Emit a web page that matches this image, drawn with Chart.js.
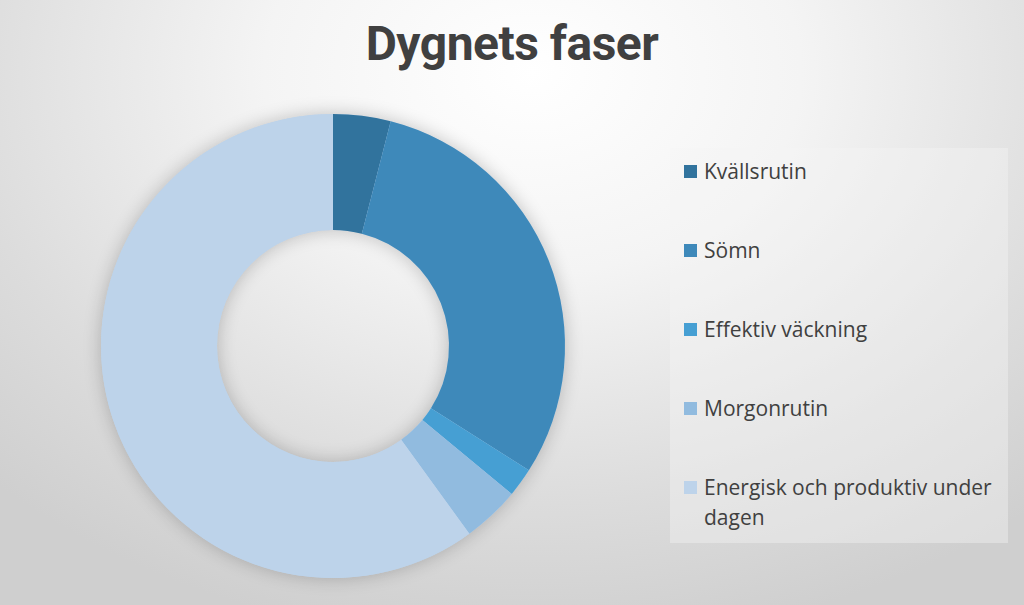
<!DOCTYPE html>
<html lang="sv">
<head>
<meta charset="utf-8">
<title>Dygnets faser</title>
<script src="https://cdn.jsdelivr.net/npm/chart.js@4/dist/chart.umd.min.js"></script>
<style>
  html, body {
    margin: 0;
    padding: 0;
  }
  body {
    width: 1024px;
    height: 605px;
    overflow: hidden;
    position: relative;
    background: radial-gradient(ellipse 75% 95% at 52% 12%, #ffffff 0%, #f4f4f4 35%, #dcdcdc 75%, #cfcfcf 100%);
    font-family: "Open Sans", sans-serif;
    color: #404040;
  }
  #title {
    position: absolute;
    left: 0;
    width: 1024px;
    top: 15px;
    text-align: center;
    font-family: Roboto, "Open Sans", sans-serif;
    font-size: 48px;
    font-weight: bold;
    letter-spacing: -0.5px;
    color: #404040;
  }
  #chart-wrap {
    position: absolute;
    left: 71px;
    top: 84px;
    width: 524px;
    height: 524px;
  }
  #legend {
    position: absolute;
    left: 670px;
    top: 148px;
    width: 338px;
    height: 395px;
    background: rgba(245, 245, 245, 0.4);
    box-sizing: border-box;
    padding: 8px 0 0 14px;
  }
  .legend-item {
    position: relative;
    padding-left: 20px;
    font-size: 21px;
    line-height: 30px;
    height: 79px;
  }
  .legend-item .swatch {
    position: absolute;
    left: 0;
    top: 9px;
    width: 13px;
    height: 13px;
  }
</style>
</head>
<body>
<div id="title">Dygnets faser</div>
<div id="chart-wrap"><canvas id="dayChart"></canvas></div>
<div id="legend"></div>

<script>
// Share of the day per phase (percent)
const categories = ['Kvällsrutin', 'Sömn', 'Effektiv väckning', 'Morgonrutin', 'Energisk och produktiv under dagen'];
const values = [4, 30, 2, 4, 60];
const colors = ['#31739d', '#3e89ba', '#469fd3', '#91bbdf', '#bdd3ea'];

// Soft halo behind the ring, like the office chart style
const ringShadow = {
  id: 'ringShadow',
  beforeDatasetsDraw(chart) {
    const arc = chart.getDatasetMeta(0).data[0];
    if (!arc) return;
    const { x, y, innerRadius, outerRadius } = arc.getProps(['x', 'y', 'innerRadius', 'outerRadius'], true);
    const c = chart.ctx;
    c.save();
    c.shadowColor = 'rgba(0, 0, 0, 0.22)';
    c.shadowBlur = 18;
    c.fillStyle = '#bdd3ea';
    c.beginPath();
    c.arc(x, y, outerRadius, 0, Math.PI * 2);
    c.arc(x, y, innerRadius, 0, Math.PI * 2, true);
    c.fill();
    c.restore();
  }
};

const ctx = document.getElementById('dayChart').getContext('2d');
const chart = new Chart(ctx, {
  type: 'doughnut',
  data: {
    labels: categories,
    datasets: [{
      data: values,
      backgroundColor: colors,
      borderWidth: 0
    }]
  },
  options: {
    responsive: true,
    maintainAspectRatio: false,
    animation: false,
    cutout: '50%',
    layout: {
      padding: 30
    },
    plugins: {
      legend: {
        display: false
      },
      tooltip: {
        enabled: false
      }
    }
  },
  plugins: [ringShadow]
});

// Build legend from the chart's own legend items
const legendEl = document.getElementById('legend');
chart.options.plugins.legend.labels.generateLabels(chart).forEach(item => {
  const row = document.createElement('div');
  row.className = 'legend-item';
  const swatch = document.createElement('span');
  swatch.className = 'swatch';
  swatch.style.background = item.fillStyle;
  row.appendChild(swatch);
  row.appendChild(document.createTextNode(item.text));
  legendEl.appendChild(row);
});
</script>
</body>
</html>
